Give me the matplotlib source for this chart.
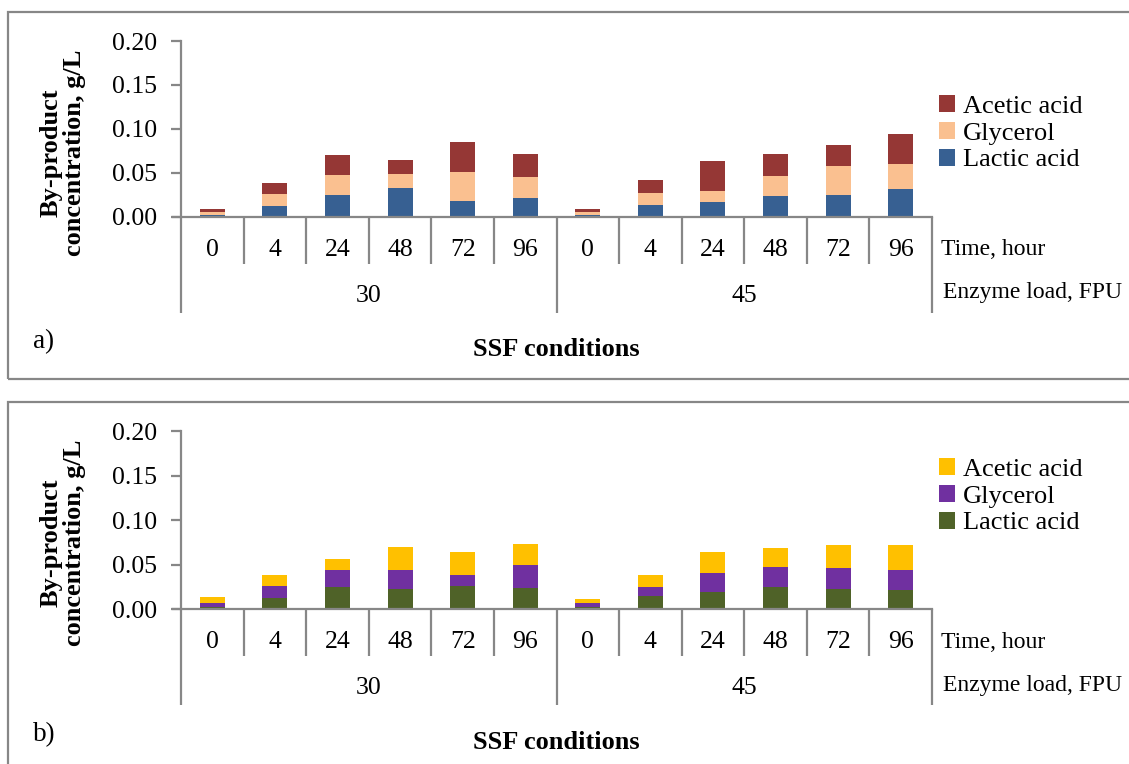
import matplotlib
matplotlib.use("Agg")
import matplotlib.pyplot as plt
from matplotlib.patches import Patch, Rectangle
import numpy as np

plt.rcParams['font.family'] = ['Liberation Serif', 'DejaVu Serif']

# SSF conditions: enzyme load groups and sampling times
enzyme_loads = ["30", "45"]
times = ["0", "4", "24", "48", "72", "96"]
series_names = ["Lactic acid", "Glycerol", "Acetic acid"]

# Panel a) by-product concentrations, g/L
lactic_a = [0.002, 0.0125, 0.025, 0.033, 0.0174, 0.0216,
            0.002, 0.0129, 0.017, 0.0231, 0.025, 0.0314]
glycerol_a = [0.0033, 0.0129, 0.0227, 0.0155, 0.033, 0.0239,
              0.0033, 0.0144, 0.0125, 0.0231, 0.033, 0.0284]
acetic_a = [0.003, 0.0125, 0.0224, 0.0159, 0.0344, 0.0257,
            0.0034, 0.0144, 0.0338, 0.0254, 0.0234, 0.0338]

# Panel b) by-product concentrations, g/L
lactic_b = [0.003, 0.0131, 0.025, 0.0224, 0.0258, 0.0236,
            0.003, 0.0146, 0.0194, 0.025, 0.0224, 0.0217]
glycerol_b = [0.0041, 0.0127, 0.0187, 0.0221, 0.0123, 0.0265,
              0.0045, 0.0108, 0.0213, 0.0229, 0.0243, 0.022]
acetic_b = [0.0067, 0.0127, 0.0124, 0.0254, 0.0262, 0.0232,
            0.0037, 0.0131, 0.0236, 0.0213, 0.0255, 0.0281]

yticks = [0.00, 0.05, 0.10, 0.15, 0.20]

colors_a = ["#376092", "#FAC090", "#953735"]
colors_b = ["#4F6228", "#7030A0", "#FFC000"]

W, H = 1129, 764
fig = plt.figure(figsize=(W / 100, H / 100), dpi=100)
GRAY = "#878787"


def fx(px):
    return px / W


def fy(py):
    return 1 - py / H


def panel(top_px, bottom_px, frame_top, frame_bottom, data, colors,
          legend_top, tag):
    # outer frame of the panel
    fig.add_artist(Rectangle((fx(8), fy(frame_bottom)), fx(1200 - 8),
                             (frame_bottom - frame_top) / H,
                             transform=fig.transFigure, fill=False,
                             edgecolor=GRAY, linewidth=1.6))
    left, right = 181, 932
    ax = fig.add_axes([fx(left), fy(bottom_px), (right - left) / W,
                       (bottom_px - top_px) / H])
    n = len(times) * len(enzyme_loads)
    x = np.arange(n)
    bottom = np.zeros(n)
    for vals, c in zip(data, colors):
        ax.bar(x, vals, width=0.40, bottom=bottom, color=c, linewidth=0)
        bottom = bottom + np.array(vals)
    ax.set_xlim(-0.5, n - 0.5)
    ax.set_ylim(0, 0.20)
    ax.set_yticks(yticks)
    ax.set_yticklabels([f"{v:.2f}" for v in yticks], fontsize=18.5)
    ax.set_xticks([])
    for s in ["top", "right"]:
        ax.spines[s].set_visible(False)
    for s in ["left", "bottom"]:
        ax.spines[s].set_color(GRAY)
        ax.spines[s].set_linewidth(1.6)
    ax.tick_params(axis="y", direction="out", length=7, width=1.6,
                   color=GRAY, pad=10)
    ax.spines["bottom"].set_bounds(-0.5 - 8 / 62.6, n - 0.5)

    hpx = bottom_px - top_px

    def ay(py):
        return (bottom_px - py) / hpx

    tr = ax.get_xaxis_transform()
    # category separators below the axis
    for k in range(n + 1):
        xb = k - 0.5
        long_line = k % len(times) == 0
        yend = ay(bottom_px + (96 if long_line else 47))
        ax.plot([xb, xb], [0, yend], transform=tr, color=GRAY, lw=1.6,
                clip_on=False, solid_capstyle="butt")
    for k in range(n):
        ax.text(k, ay(bottom_px + 33), times[k % len(times)], transform=tr,
                ha="center", va="center", fontsize=18.5)
    for g, load in enumerate(enzyme_loads):
        xc = g * len(times) + (len(times) - 1) / 2
        ax.text(xc, ay(bottom_px + 79), load, transform=tr,
                ha="center", va="center", fontsize=18.5)
    fig.text(fx(941), fy(bottom_px + 33), "Time, hour", ha="left",
             va="center", fontsize=17)
    fig.text(fx(943), fy(bottom_px + 76), "Enzyme load, FPU", ha="left",
             va="center", fontsize=17)
    fig.text(fx(556), fy(bottom_px + 133), "SSF conditions", ha="center",
             va="center", fontsize=19, fontweight="bold")
    fig.text(fx(33), fy(bottom_px + 125), tag, ha="left", va="center",
             fontsize=19.5)
    fig.text(fx(63), fy(top_px + 112), "By-product\nconcentration, g/L",
             rotation=90, ha="center", va="center", fontsize=19,
             fontweight="bold", linespacing=1.05, multialignment="center")

    handles = [Patch(facecolor=c, edgecolor="none") for c in colors]
    fig.legend(handles[::-1], series_names[::-1],
               loc="upper left",
               bbox_to_anchor=(fx(939), fy(legend_top)),
               frameon=False, fontsize=19, handlelength=0.6,
               handleheight=0.6, handletextpad=0.3,
               labelspacing=0.16, borderaxespad=0, borderpad=0)
    return ax


panel(41, 216.7, 12, 379, [lactic_a, glycerol_a, acetic_a], colors_a,
      95, "a)")
panel(431, 609.3, 402, 790, [lactic_b, glycerol_b, acetic_b], colors_b,
      458, "b)")

fig.savefig("out.png", dpi=100, facecolor="white")
